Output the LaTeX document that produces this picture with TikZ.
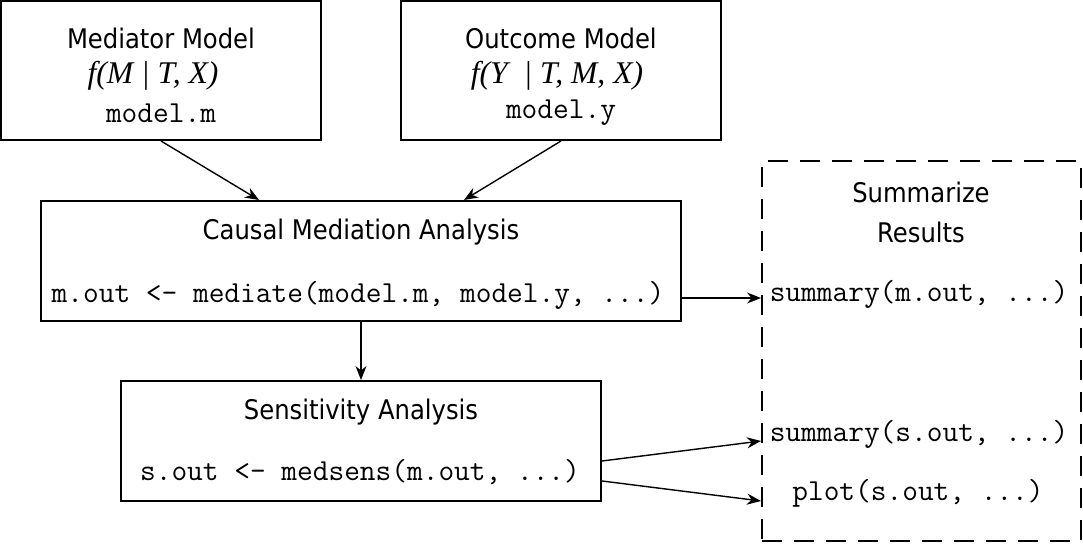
\documentclass[tikz,border=0pt]{standalone}
\usepackage{fontspec}
\setsansfont{DejaVu Sans Condensed}
\newfontfamily\formfont{Liberation Serif}
\usetikzlibrary{arrows.meta, positioning, calc}
\tikzset{
  every picture/.style={font=\sffamily, line width=1pt},
  box/.style={draw, rectangle, line width=1pt, inner sep=0pt},
  arrow/.style={-{Stealth[length=7pt, width=5.5pt]}, line width=0.7pt},
  head/.style={font=\sffamily\fontsize{13.5}{16}\selectfont},
  code/.style={font=\ttfamily\fontsize{15.25}{17}\selectfont},
  form/.style={font=\formfont\itshape\fontsize{15.8}{18}\selectfont},
}
\begin{document}
\begin{tikzpicture}[x=0.5pt, y=-0.5pt]
  \useasboundingbox (0,0) rectangle (1083,544);
  % boxes
  \node[box, minimum width=160pt, minimum height=69.5pt] (med) at (161,70.5) {};
  \node[box, minimum width=160pt, minimum height=69.5pt] (out) at (561,70.5) {};
  \node[box, minimum width=320pt, minimum height=60pt] (cma) at (361,261) {};
  \node[box, minimum width=240pt, minimum height=60pt] (sens) at (361,441) {};
  \node[box, dash pattern=on 10pt off 6pt, minimum width=159.5pt, minimum height=190pt] (sum) at (921.5,351) {};
  % texts
  \node[head] (medtitle) at (161,38) {Mediator Model};
  \node[form] (medform) at (153,76) {f(M | T, X)};
  \node[code] (medcode) at (161,113) {model.m};
  \node[head] (outtitle) at (561,38) {Outcome Model};
  \node[form] (outform) at (557,76) {f(Y \ | T, M, X)};
  \node[code] (outcode) at (561,113) {model.y};
  \node[head] (cmatitle) at (361,232) {Causal Mediation Analysis};
  \node[code] (cmacode) at (358,295) {m.out <- mediate(model.m, model.y, ...)};
  \node[head] (senstitle) at (361,412) {Sensitivity Analysis};
  \node[code] (senscode) at (360,472) {s.out <- medsens(m.out, ...)};
  \node[head] (sumtitle) at (921,192) {Summarize};
  \node[head] (sumresults) at (921,232) {Results};
  \node[code] (summ) at (919,294) {summary(m.out, ...)};
  \node[code] (sums) at (919,434) {summary(s.out, ...)};
  \node[code] (plots) at (918,493) {plot(s.out, ...)};
  % connectors
  \draw[arrow] (med.south) -- ($(cma.north west)+(219,0)$);
  \draw[arrow] (out.south) -- ($(cma.north west)+(424,0)$);
  \draw[arrow] (cma.south) -- (sens.north);
  \draw[arrow] ($(cma.east)+(0,37)$) -- ($(sum.west)+(0,-53)$);
  \draw[arrow] ($(sens.east)+(0,20)$) -- ($(sum.west)+(0,90)$);
  \draw[arrow] ($(sens.east)+(0,40)$) -- ($(sum.west)+(0,150)$);
\end{tikzpicture}
\end{document}
